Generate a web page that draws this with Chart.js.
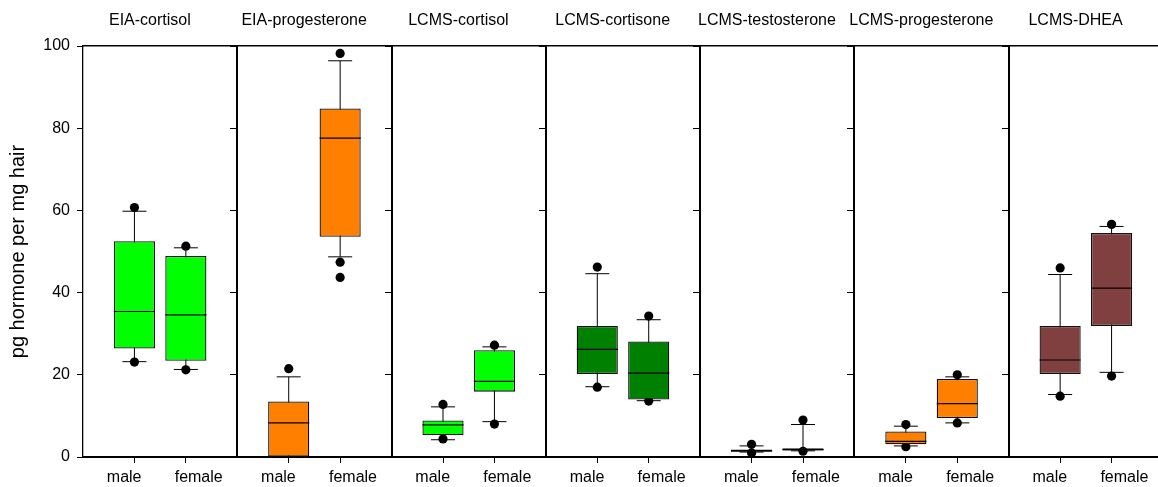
<!DOCTYPE html>
<html>
<head>
<meta charset="utf-8">
<title>Hair hormone concentrations by sex</title>
<script src="https://cdn.jsdelivr.net/npm/chart.js"></script>
<style>
  html, body { margin: 0; padding: 0; background: #ffffff; overflow: hidden; }
  #wrap { position: relative; width: 1176px; height: 487px; }
</style>
</head>
<body>
<div id="wrap"><canvas id="chart"></canvas></div>
<script>
// Hormone panels, left to right
const hormones = ['EIA-cortisol', 'EIA-progesterone', 'LCMS-cortisol', 'LCMS-cortisone',
                  'LCMS-testosterone', 'LCMS-progesterone', 'LCMS-DHEA'];
const sexes = ['male', 'female'];
const yTickValues = [0, 20, 40, 60, 80, 100];

// Box statistics (pg/mg), one entry per box: hormone by hormone, male then female
const whiskerLow  = [23.2, 21.3, null, 48.7, 4.2, 8.6, 17.1, 13.7, 1.2, 1.5, 2.7, 8.3, 15.2, 20.6];
const quartile1   = [26.4, 23.4, 0.0, 53.6, 5.3, 15.9, 20.2, 14.0, 1.3, 1.6, 3.1, 9.5, 20.2, 31.9];
const median      = [35.4, 34.6, 8.3, 77.6, 7.8, 18.4, 26.2, 20.4, 1.5, 1.8, 3.8, 13.0, 23.6, 41.1];
const quartile3   = [52.5, 48.9, 13.5, 84.8, 8.9, 26.0, 31.9, 28.1, 1.8, 2.1, 6.2, 19.0, 31.9, 54.5];
const whiskerHigh = [59.8, 50.9, 19.5, 96.4, 12.2, 26.8, 44.6, 33.4, 2.7, 7.9, 7.5, 19.5, 44.4, 56.1];
const outliers = [
  [60.7, 23.1], [51.3, 21.2],
  [21.5], [98.2, 47.4, 43.7],
  [12.8, 4.4], [27.2, 8.0],
  [46.2, 17.0], [34.3, 13.6],
  [3.1, 1.0], [9.0, 1.4],
  [7.9, 2.5], [20.0, 8.3],
  [46.0, 14.8], [56.6, 19.7]
];

// Fill colour of each hormone panel
const panelColors = ['#00ff00', '#ff8000', '#00ff00', '#008000', '#ff8000', '#ff8000', '#804040'];

// Each panel spans three x units; male box sits at +1, female at +2
const PANEL = 3;
const boxIndex = quartile1.map((_, i) => i);
const boxX = i => PANEL * Math.floor(i / 2) + 1 + (i % 2);
const panelTicks = (fn) => hormones.flatMap((_, p) => fn(PANEL * p));

Chart.defaults.font.family = "'Liberation Sans', Arial, Helvetica, sans-serif";
Chart.defaults.font.size = 16;
Chart.defaults.color = '#000000';

const setTicks = values => scale => { scale.ticks = values.map(v => ({ value: v })); };

const xBase = {
  type: 'linear', min: 0, max: PANEL * hormones.length, offset: false
};

// Panel divider axes: one y axis per inner panel edge, drawing its line and outward ticks
const dividerAxes = {};
for (let p = 1; p < hormones.length; p++) {
  dividerAxes['y' + p] = {
    axis: 'y', type: 'linear', position: { x: PANEL * p },
    min: 0, max: 100,
    afterBuildTicks: setTicks(yTickValues),
    ticks: { display: false },
    grid: { drawOnChartArea: false, drawTicks: true, tickLength: 6, color: '#000000', lineWidth: 1 },
    border: { display: true, color: '#000000', width: 2 },
    afterFit: s => { s.width = 0; }
  };
}

new Chart(document.getElementById('chart'), {
  type: 'bar',
  data: {
    datasets: [
      {
        // whisker stems
        type: 'bar', order: 5, grouped: false, barThickness: 1,
        data: boxIndex.map(i => ({ x: boxX(i), y: [whiskerLow[i] ?? quartile1[i], whiskerHigh[i]] })),
        backgroundColor: '#000000', borderWidth: 0, inflateAmount: 0
      },
      {
        // points beyond the whiskers
        type: 'scatter', order: 4,
        data: outliers.flatMap((list, i) => list.map(v => ({ x: boxX(i), y: v }))),
        pointStyle: 'circle', pointRadius: 4.6, pointHoverRadius: 4.6,
        backgroundColor: '#000000', borderWidth: 0
      },
      {
        // whisker caps
        type: 'scatter', order: 3,
        data: boxIndex.flatMap(i => [whiskerLow[i], whiskerHigh[i]]
          .filter(v => v !== null).map(v => ({ x: boxX(i), y: v }))),
        pointStyle: 'line', pointRadius: 12, pointHoverRadius: 12,
        borderColor: '#000000', borderWidth: 1
      },
      {
        // interquartile boxes
        type: 'bar', order: 2, grouped: false,
        categoryPercentage: 0.8, barPercentage: 1.0,
        data: boxIndex.map(i => ({ x: boxX(i), y: [quartile1[i], quartile3[i]] })),
        backgroundColor: boxIndex.map(i => panelColors[Math.floor(i / 2)]),
        borderColor: '#111111', borderWidth: 1.3, borderSkipped: false, inflateAmount: 0
      },
      {
        // medians
        type: 'scatter', order: 1,
        data: boxIndex.map(i => ({ x: boxX(i), y: median[i] })),
        pointStyle: 'line',
        pointRadius: ctx => {
          const s = ctx.chart.scales.x;
          return s.getPixelForValue(0.4) - s.getPixelForValue(0);
        },
        borderColor: '#000000', borderWidth: 1.2
      }
    ]
  },
  options: {
    responsive: true,
    maintainAspectRatio: false,
    animation: false,
    events: [],
    layout: { padding: { left: 0, right: 1, top: 0, bottom: 0 } },
    plugins: { legend: { display: false }, tooltip: { enabled: false } },
    scales: {
      x: {
        ...xBase, position: 'bottom', weight: 0,
        afterBuildTicks: setTicks(boxIndex.map(boxX)),
        ticks: { display: false },
        grid: { drawOnChartArea: false, drawTicks: true, tickLength: 6, offset: false, color: '#000000', lineWidth: 1 },
        border: { display: true, color: '#000000', width: 2 },
        afterFit: s => { s.height = 6; }
      },
      xLabels: {
        ...xBase, axis: 'x', position: 'bottom', weight: 1,
        afterBuildTicks: setTicks(panelTicks(start => [start + 0.8, start + 2.25])),
        ticks: {
          autoSkip: false, maxRotation: 0, minRotation: 0, padding: 5,
          font: { size: 16 },
          callback: (value, index) => sexes[index % sexes.length]
        },
        grid: { display: false, drawTicks: false, offset: false },
        border: { display: false },
        afterFit: s => { s.height = 24; }
      },
      xTitles: {
        ...xBase, axis: 'x', position: 'top',
        afterBuildTicks: setTicks(panelTicks(start => [start + 1.3])),
        ticks: {
          autoSkip: false, maxRotation: 0, minRotation: 0, padding: 16,
          font: { size: 16 },
          callback: (value, index) => hormones[index]
        },
        grid: { display: false, drawTicks: false, offset: false },
        border: { display: true, color: '#000000', width: 1.5 },
        afterFit: s => { s.height = 46; }
      },
      y: {
        type: 'linear', position: 'left', min: 0, max: 100,
        afterBuildTicks: setTicks(yTickValues),
        ticks: { padding: 7, font: { size: 16 } },
        grid: { drawOnChartArea: false, drawTicks: true, tickLength: 6, color: '#000000', lineWidth: 1 },
        border: { display: true, color: '#000000', width: 1.3 },
        title: {
          display: true, text: 'pg hormone per mg hair',
          font: { size: 20 }, padding: { top: 6, bottom: 0 }, color: '#000000'
        },
        afterFit: s => { s.width = 83; }
      },
      ...dividerAxes
    }
  }
});
</script>
</body>
</html>
